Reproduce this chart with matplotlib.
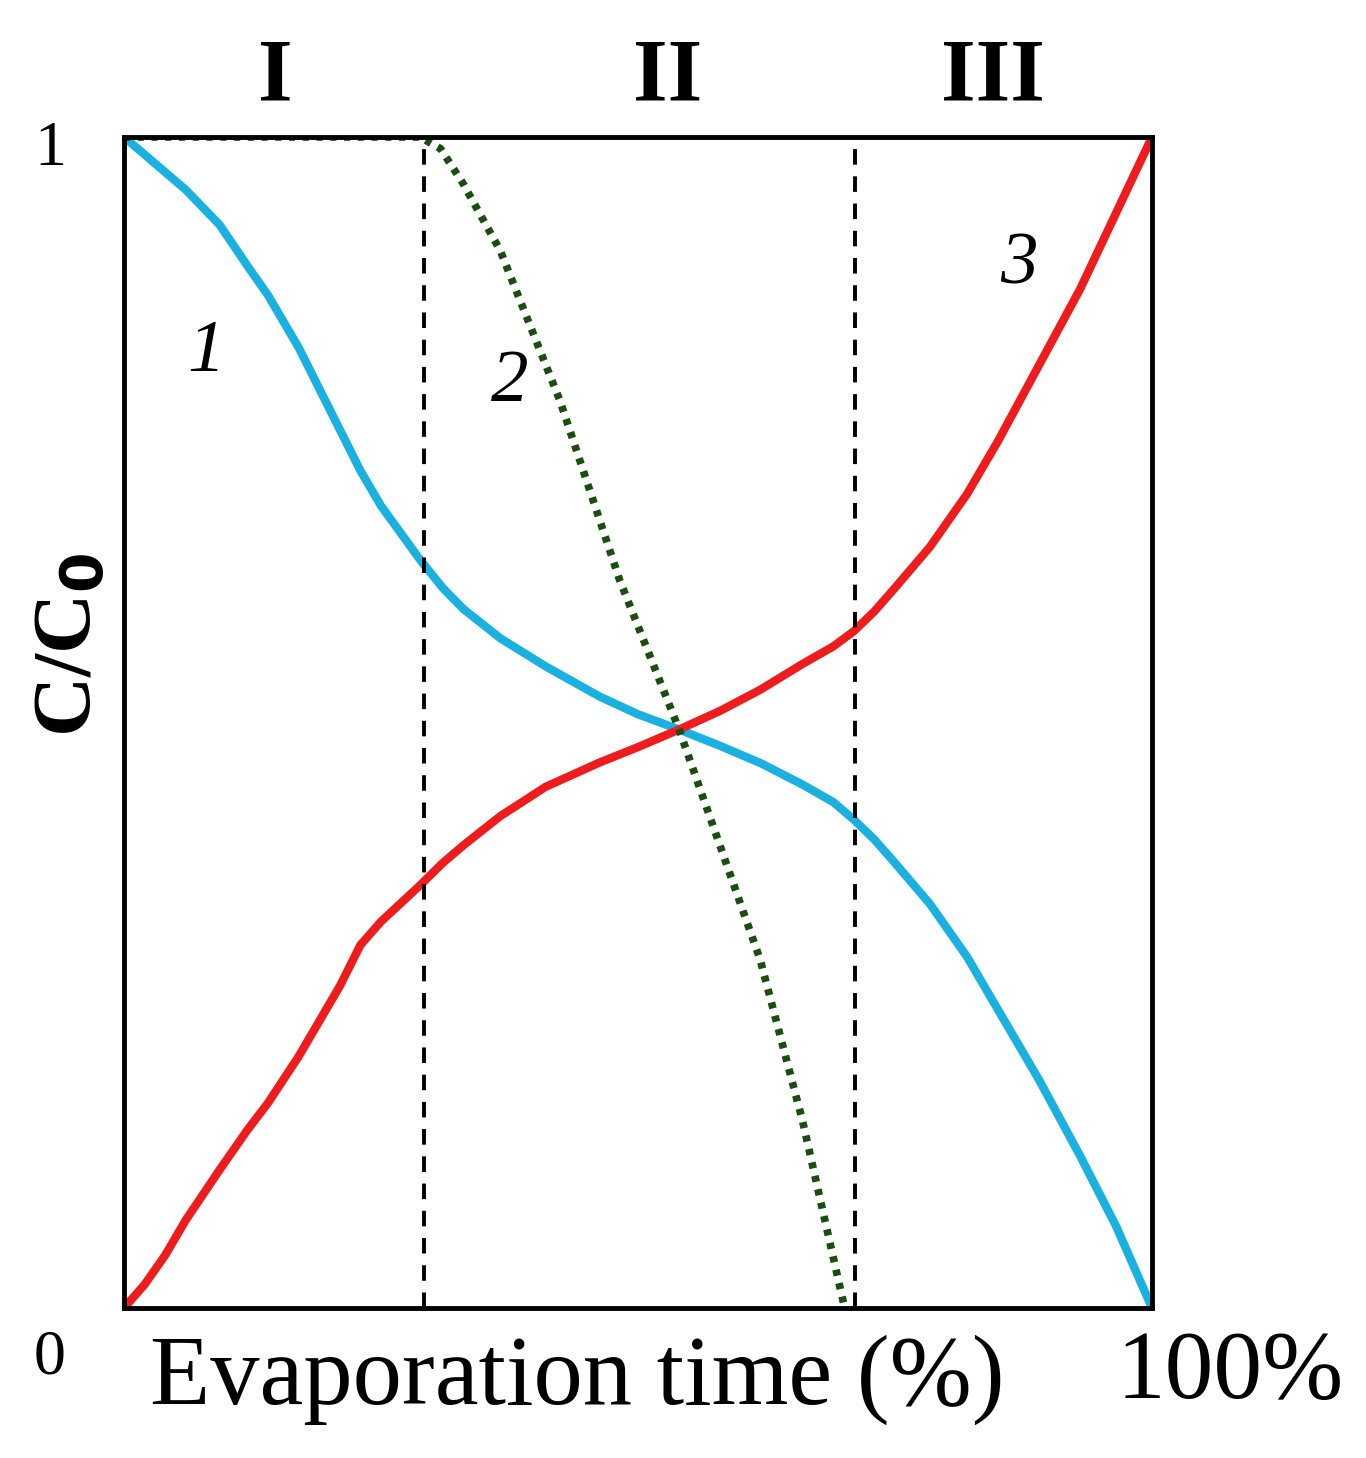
import matplotlib.pyplot as plt

plt.rcParams["font.family"] = ["Liberation Serif", "DejaVu Serif"]

# curve 1 (blue), curve 3 (red), curve 2 (green dotted); x in % of evaporation time
x1 = [0, 2, 4, 6, 9.3, 12, 14, 17, 19, 21, 23, 25, 28.8, 31, 33, 36.6, 41, 46.3, 50, 54, 58, 62, 66, 69, 71, 73, 75, 78.4, 82, 85, 89, 93, 96.5, 100]
y1 = [1.0, 0.985, 0.97, 0.955, 0.925, 0.89, 0.865, 0.82, 0.785, 0.75, 0.715, 0.685, 0.639, 0.615, 0.597, 0.572, 0.548, 0.522, 0.507, 0.494, 0.48, 0.465, 0.447, 0.432, 0.417, 0.40, 0.38, 0.345, 0.30, 0.255, 0.195, 0.13, 0.07, 0.0]
x3 = [0, 2, 4, 6, 9.3, 12, 14, 17, 19, 21, 23, 25, 28.8, 31, 33, 36.6, 41, 46.3, 50, 54, 58, 61.9, 66, 69, 71, 73, 75, 78.4, 82, 85, 89, 93, 96.5, 100]
y3 = [0.0, 0.02, 0.045, 0.075, 0.118, 0.152, 0.175, 0.215, 0.245, 0.275, 0.31, 0.33, 0.361, 0.38, 0.395, 0.42, 0.445, 0.466, 0.479, 0.494, 0.51, 0.528, 0.55, 0.565, 0.578, 0.595, 0.615, 0.65, 0.695, 0.74, 0.805, 0.87, 0.935, 1.0]
x2 = [0, 10, 20, 28.8, 30.8, 33, 36.6, 42.4, 48.2, 54, 61.9, 66, 70.1]
y2 = [1.0, 1.0, 1.0, 1.0, 0.99, 0.96, 0.903, 0.775, 0.622, 0.494, 0.297, 0.16, 0.0]
phase_bounds = [29.2, 71.1]
phase_labels = ["I", "II", "III"]
phase_pos = [14.7, 52.9, 84.5]

fig = plt.figure(figsize=(13.66, 14.58), dpi=100)
ax = fig.add_axes([124 / 1366, 1 - 1308 / 1458, 1028 / 1366, 1171 / 1458])

ax.plot(x1, y1, color="#1ab0e0", lw=6)
ax.plot(x3, y3, color="#ee1c1c", lw=6)
ax.plot(x2, y2, color="#1a4d10", lw=5.5, linestyle=(0, (0.8, 1.0)))
for xb in phase_bounds:
    ax.axvline(xb, color="black", lw=2.8, linestyle=(0, (4, 3)))

ax.set_xlim(0, 100)
ax.set_ylim(0, 1)
ax.set_xticks([])
ax.set_yticks([])
for s in ax.spines.values():
    s.set_linewidth(3.5)

for lab, xp in zip(phase_labels, phase_pos):
    ax.text(xp, 1.05, lab, ha="center", va="center", fontsize=64, fontweight="bold")

ax.text(8, 0.815, "1", style="italic", fontsize=54, ha="center", va="center")
ax.text(37.5, 0.79, "2", style="italic", fontsize=54, ha="center", va="center")
ax.text(87, 0.89, "3", style="italic", fontsize=54, ha="center", va="center")

fig.text(50 / 1366, 1 - 150 / 1458, "1", fontsize=46, ha="center", va="center")
fig.text(50 / 1366, 1 - 1358 / 1458, "0", fontsize=46, ha="center", va="center")
fig.text(1230 / 1366, 1 - 1375 / 1458, "100%", fontsize=70, ha="center", va="center")
fig.text(577 / 1366, 1 - 1380 / 1458, "Evaporation time (%)", fontsize=71, ha="center", va="center")
fig.text(72 / 1366, 1 - 645 / 1458, "C/C$_\\mathbf{0}$", fontsize=60, fontweight="bold",
         rotation=90, ha="center", va="center")

fig.savefig("out.png", dpi=100)
